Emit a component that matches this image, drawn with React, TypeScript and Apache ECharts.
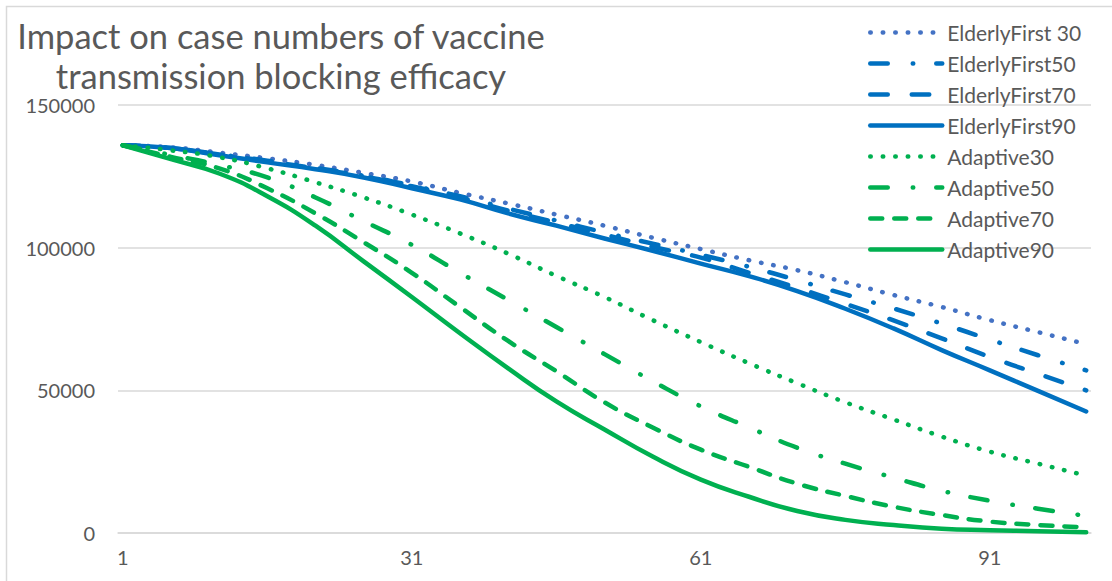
import React, { useEffect, useRef } from 'react';
import * as echarts from 'echarts';

const days = [1, 6, 11, 16, 21, 26, 31, 36, 41, 46, 51, 56, 61, 66, 71, 76, 81, 86, 91, 96, 101];

const elderlyFirst30 = [135900, 135200, 133300, 131300, 129000, 126200, 123200, 119200, 115500, 111600, 107700, 103500, 99500, 95600, 92100, 87900, 83400, 79200, 74600, 70400, 66200];
const elderlyFirst50 = [135900, 134900, 132700, 130500, 128000, 125200, 121800, 118000, 113700, 109500, 105300, 101400, 97500, 93300, 88600, 83600, 78700, 73400, 67800, 62300, 57000];
const elderlyFirst70 = [135900, 134900, 132700, 130300, 127800, 125000, 121500, 117600, 113000, 108800, 104600, 100300, 96500, 91200, 85900, 80300, 74500, 68200, 61700, 55800, 50000];
const elderlyFirst90 = [135900, 134900, 132400, 129900, 127500, 124600, 120800, 116900, 112000, 107700, 103200, 98900, 94400, 90000, 84800, 78600, 71700, 64100, 57000, 49800, 42600];
const adaptive30 = [135900, 134100, 131700, 127800, 122900, 117600, 111600, 105000, 97900, 90100, 82700, 74600, 66900, 59500, 52500, 45800, 39800, 33800, 28500, 24300, 20100];
const adaptive50 = [135900, 132500, 129000, 124600, 117600, 109300, 101000, 91200, 81700, 72200, 62700, 53200, 44400, 37000, 29900, 24300, 19400, 14800, 11300, 8500, 6000];
const adaptive70 = [135900, 131800, 127800, 120800, 112000, 101900, 91200, 79200, 67300, 56700, 45800, 37000, 29200, 23200, 17300, 13000, 9200, 6300, 4000, 2800, 2000];
const adaptive90 = [135900, 131000, 126000, 118000, 107700, 95200, 82700, 70000, 57700, 46100, 36300, 26800, 18700, 12700, 7700, 4600, 2800, 1500, 1000, 600, 300];

const seriesNames = ['ElderlyFirst 30', 'ElderlyFirst50', 'ElderlyFirst70', 'ElderlyFirst90', 'Adaptive30', 'Adaptive50', 'Adaptive70', 'Adaptive90'];
const seriesValues = [elderlyFirst30, elderlyFirst50, elderlyFirst70, elderlyFirst90, adaptive30, adaptive50, adaptive70, adaptive90];

const xTickLabels = [1, 31, 61, 91];
const yMin = 0;
const yMax = 150000;
const yStep = 50000;

const titleText = 'Impact on case numbers of vaccine\ntransmission blocking efficacy';

const BLUE_LIGHT = '#4472C4';
const BLUE = '#0070C0';
const GREEN = '#00B050';

const DOTTED = [0.5, 12];
const DASH_DOT = [17.5, 25, 0.5, 23];
const LONG_DASH = [17.5, 24];
const DASH = [12, 12];

const styles = [
  { color: BLUE_LIGHT, type: DOTTED },
  { color: BLUE, type: DASH_DOT },
  { color: BLUE, type: LONG_DASH },
  { color: BLUE, type: 'solid' },
  { color: GREEN, type: DOTTED },
  { color: GREEN, type: DASH_DOT },
  { color: GREEN, type: DASH },
  { color: GREEN, type: 'solid' },
];

const FONT = 'Lato, "Open Sans", sans-serif';
const TEXT_COLOR = '#595959';

export default function App() {
  const ref = useRef<HTMLDivElement>(null);

  useEffect(() => {
    if (!ref.current) return;
    const chart = echarts.init(ref.current, null, { renderer: 'svg' });

    const series = seriesNames.map((name, i) => ({
      name,
      type: 'line',
      data: days.map((d, j) => [d, seriesValues[i][j]]),
      symbol: 'none',
      smooth: 0.5,
      lineStyle: {
        color: styles[i].color,
        width: 4.5,
        type: styles[i].type as any,
        cap: 'round',
        join: 'round',
      },
      itemStyle: { color: styles[i].color },
    }));

    const option: any = {
      animation: false,
      backgroundColor: '#ffffff',
      title: {
        text: titleText,
        left: 281,
        top: 15,
        padding: 0,
        textAlign: 'center',
        textStyle: {
          fontFamily: FONT,
          fontSize: 34.5,
          fontWeight: 'normal',
          color: TEXT_COLOR,
          lineHeight: 40,
        },
      },
      legend: {
        orient: 'vertical',
        left: 868,
        top: 22,
        padding: 0,
        itemWidth: 72,
        itemHeight: 14,
        itemGap: 10,
        data: seriesNames,
        itemStyle: { opacity: 0, borderWidth: 0 },
        lineStyle: { width: 4.5 },
        textStyle: {
          fontFamily: FONT,
          fontSize: 21,
          color: TEXT_COLOR,
          lineHeight: 20,
        },
      },
      grid: {
        left: 118,
        right: 21,
        top: 105,
        bottom: 48,
      },
      xAxis: {
        type: 'value',
        min: 0.5,
        max: 101.5,
        axisLine: { show: true, lineStyle: { color: '#d9d9d9', width: 1.5 } },
        axisTick: { show: false },
        splitLine: { show: false },
        axisLabel: {
          customValues: xTickLabels,
          formatter: (v: number) => String(v),
          color: TEXT_COLOR,
          fontFamily: FONT,
          fontSize: 20,
          margin: 14,
        },
      },
      yAxis: {
        type: 'value',
        min: yMin,
        max: yMax,
        interval: yStep,
        axisLine: { show: false },
        axisTick: { show: false },
        splitLine: { lineStyle: { color: '#d9d9d9', width: 1.5 } },
        axisLabel: {
          formatter: (v: number) => String(v),
          color: TEXT_COLOR,
          fontFamily: FONT,
          fontSize: 20,
          margin: 23,
        },
      },
      graphic: [
        {
          type: 'rect',
          silent: true,
          z: -10,
          shape: { x: 6.5, y: 6.5, width: 1120, height: 590 },
          style: { fill: 'none', stroke: '#d9d9d9', lineWidth: 1.5 },
        },
      ],
      series,
    };

    chart.setOption(option);
    return () => chart.dispose();
  }, []);

  return (
    <div
      ref={ref}
      style={{ position: 'fixed', left: 0, top: 0, width: 1112, height: 581, background: '#fff' }}
    />
  );
}
